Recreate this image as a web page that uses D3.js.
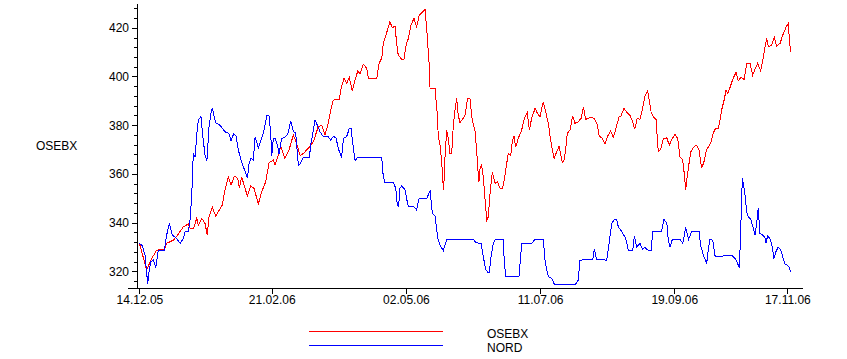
<!DOCTYPE html>
<html>
<head>
<meta charset="utf-8">
<script src="https://cdn.jsdelivr.net/npm/d3@7"></script>
<style>
    body { margin: 0; background: #fff; }
    svg text { font-family: "Liberation Sans", Arial, sans-serif; font-size: 12px; fill: #000; }
</style>
</head>
<body>
<svg id="chart" width="847" height="359"></svg>
<script>
// x values are days since 14.12.05
var osebxDays = [0, 3.8, 5.9, 9, 13, 14.2, 17.7, 20.3, 22.9, 25.5,
    26.4, 28.1, 29.9, 30.7, 32.5, 34.2, 35.4, 36.3, 38, 39.8,
    43.2, 44.6, 46.4, 47.8, 49.5, 51.3, 52.1, 53.3, 55.1, 56.3,
    58, 59.8, 62, 63.8, 65.9, 67.6, 69.8, 70.7, 72.1, 73.7,
    75.9, 78, 80.3, 82, 83.8, 85.5, 88.1, 90.7, 93.3, 95.1,
    96.8, 98.5, 99.8, 101.1, 104.3, 105, 106.7, 108.1, 109.5, 111,
    112.5, 113.9, 115.1, 116.8, 118.6, 119.4, 123.8, 125, 126.4, 127.2,
    128.6, 130.7, 131.9, 133.3, 134.2, 135, 136.8, 138, 139.1, 140.3,
    141.7, 143.2, 144.6, 146, 147.8, 149, 149.9, 151.1, 151.6, 154.2,
    155.4, 155.9, 156.8, 157.7, 158.2, 158.7, 159.4, 160.3, 161.1, 162,
    162.9, 163.7, 164.6, 165.5, 166.3, 167.2, 169.8, 171.2, 172.4, 173.6,
    175, 175.9, 176.5, 177.1, 177.7, 178.5, 179.4, 180.3, 181.2, 182,
    182.9, 184.1, 185.5, 186.7, 188.1, 189.5, 190.7, 191.6, 192.4, 193.7,
    194.5, 195.4, 196.3, 197.6, 199.4, 200.8, 202.3, 203.4, 204.6, 206.4,
    207.8, 209, 209.8, 210.7, 212.1, 213.3, 214.5, 215.4, 216.3, 217.7,
    218.9, 219.8, 220.6, 221.6, 222.5, 223.2, 224.6, 226, 227.2, 228.9,
    230.4, 231.6, 232.8, 235.1, 237.3, 238.9, 239.9, 241.2, 242.9, 244.1,
    245.8, 247.2, 248.6, 250.2, 251.2, 252.8, 254.2, 255.9, 257.3, 258.4,
    259.7, 261.1, 262.5, 263.7, 265.1, 265.8, 266.9, 268.1, 269.5, 270.2,
    270.7, 271.9, 273.3, 275.1, 276.4, 278, 279.4, 280.8, 282, 283.4,
    284.2, 285, 285.5, 286.7, 287.7, 289.5, 290.7, 291.9, 293.3, 294.5,
    295.9, 297.1, 298.2, 299.4, 300.6, 302, 302.9, 303.8, 305.1, 306,
    306.9, 308.1, 309.5, 311.2, 312.4, 313.8, 315.5, 316.8, 318.5, 319.9,
    321.1, 322.5, 324.1, 325.5, 326.3, 327.2, 328.1, 329.8, 331.2, 332.4,
    334.2, 335.6, 337.3, 338.5, 339, 339.7];
var osebxValues = [331.5, 320.5, 324.6, 328.7, 329, 331.5, 332.8, 335.3, 338.3, 339.4,
    337.6, 337.4, 341.8, 339, 341.8, 339.7, 334.9, 342.4, 346.3, 342.7,
    347.2, 353.4, 358.8, 355.4, 359.1, 358.2, 354.1, 358.8, 354.1, 350.9,
    355, 354.1, 347.6, 352.7, 356.8, 364.6, 365.7, 363.6, 367, 371.2,
    366.4, 369.8, 376, 372.5, 367.5, 368.4, 370.5, 373.2, 379.4, 380,
    376, 380.8, 386.2, 390.3, 390.6, 394.4, 399.2, 397.2, 399.6, 394.1,
    398.5, 402.3, 401, 405, 403.3, 399.2, 399.2, 405.4, 407.5, 413.6,
    417, 422.5, 420, 420.7, 413.6, 408.8, 407, 407, 412.9, 415.6,
    421.1, 423.9, 420.4, 425.2, 426.6, 427.6, 419, 405.4, 395.1, 395.1,
    384.2, 375.3, 371.8, 365, 357.5, 353.4, 367, 378, 374.6, 368.4,
    368.4, 379.4, 386.2, 391, 384.2, 381, 383.8, 391, 391, 382.1,
    378, 369.8, 362.3, 356.8, 362.3, 363.6, 358.8, 349.3, 341.1, 342.4,
    352, 360.9, 356.1, 356.8, 354.1, 354.1, 359.5, 364.3, 368.4, 367.7,
    373.2, 375.5, 370.9, 374.6, 378, 382.8, 385.1, 378, 382.8, 386.9,
    384.6, 383.5, 386.9, 389.6, 384.9, 380.8, 373.9, 369.8, 366.4, 369.1,
    371.4, 367.7, 364.6, 365.7, 371.2, 376.7, 378, 383.8, 380.8, 381.4,
    382.8, 387.6, 382.4, 383.2, 382.8, 380, 375.3, 375, 372.3, 375.3,
    377.7, 375, 378.7, 383.5, 383.8, 386.9, 385.3, 384, 381.4, 378.3,
    382.8, 382.4, 386.9, 392, 394, 391, 385.5, 383.5, 382.4, 373.9,
    369.1, 370.1, 374.6, 374.8, 371.8, 374.6, 376.2, 374.6, 367, 365.7,
    360.2, 353.4, 357.5, 364.3, 369.1, 371.4, 371.8, 369.8, 362.3, 365,
    370.1, 371.4, 373.2, 376.9, 378.7, 378.7, 382.1, 386.5, 390.6, 394.4,
    393.1, 395.5, 398.8, 401.7, 398.2, 399.6, 398.8, 405.4, 405.4, 400.6,
    402.9, 405.4, 402.2, 408.1, 412, 415.6, 412.2, 412.9, 416, 412.5,
    413.6, 417, 420.2, 421.8, 415.6, 410.1];

var nordDays = [0, 1.5, 2.9, 3.8, 4.3, 5, 5.9, 7.2, 8.5, 9.8,
    13, 14.2, 15.6, 17.1, 19.4, 21.2, 22.9, 23.8, 25.5, 26.4,
    27.3, 28.1, 29, 29.9, 30.7, 32.1, 33, 34.2, 35.2, 36.3,
    37.3, 38, 39.8, 42, 44.6, 46.7, 47.8, 49.2, 50.4, 51.6,
    53, 54.7, 56.3, 57.2, 58.2, 59.4, 60.3, 61.2, 62, 63.4,
    64.6, 66.4, 67.6, 68.5, 69, 69.8, 70.7, 72.1, 72.8, 74.2,
    75.9, 77.3, 78, 78.9, 80.3, 81.5, 82.9, 83.8, 85.5, 88.6,
    89.5, 90.7, 91.6, 92.8, 94.2, 95.9, 98.5, 99.8, 101.1, 102.5,
    103.7, 105, 105.5, 106.4, 108.1, 109.5, 110.4, 111.6, 112.5, 113.9,
    126.4, 127.2, 128.1, 132.4, 133.7, 134.5, 135.2, 135.9, 136.8, 138.5,
    139.7, 140.3, 142.9, 144.6, 145.8, 149.9, 151.6, 152.8, 154.2, 155.1,
    155.6, 156.8, 158.5, 160.3, 174.2, 175.6, 178.2, 179.4, 180.6, 181.7,
    182.5, 183.4, 184.6, 185.8, 189.8, 190.3, 191.1, 198, 198.7, 199.4,
    204.6, 206.4, 210.7, 211.6, 212.5, 213.3, 215.1, 216.4, 227.6, 228.9,
    229.8, 236.5, 237.3, 238.5, 243.8, 245, 246.4, 247.6, 249, 249.8,
    251.6, 253.7, 255, 257.3, 258.2, 259.4, 261.1, 262.5, 263.7, 265.5,
    266.9, 267.8, 272.4, 273.6, 275.1, 275.9, 276.8, 278, 282, 283.4,
    284.2, 284.9, 285.8, 286.5, 288.1, 291.9, 292.9, 294.5, 295.9, 296.8,
    297.6, 299.1, 300.3, 301.5, 304.3, 309, 310.7, 311.9, 312.9, 313.3,
    313.8, 314.5, 315, 315.9, 316.8, 317.6, 318.9, 320.3, 321.1, 322,
    322.8, 323.7, 325.1, 326.3, 326.8, 327.7, 328.9, 330.1, 331, 332,
    333.2, 334.5, 335.5, 336.7, 337.9, 339, 339.7];
var nordValues = [331.5, 330.5, 326.7, 319.2, 314.8, 319.8, 323.9, 324.6, 321.6, 328.5,
    328.5, 334.9, 339.7, 334.9, 333.5, 331.5, 333.5, 336.3, 336.3, 341,
    351.3, 368.4, 366.8, 376, 382.1, 383.5, 376, 367.7, 365.3, 379.4,
    384.9, 386.9, 381, 380, 377.3, 376.6, 373.5, 376.6, 375.5, 369.8,
    365.7, 361.9, 358.2, 364.3, 366.6, 365.7, 375, 373.2, 370.5, 373.9,
    376.6, 383.8, 383.8, 376.6, 367.3, 374.2, 374.8, 371.4, 368.2, 374.6,
    375, 376.4, 378.3, 381.8, 377.3, 376.9, 363.6, 364.1, 366.8, 366.8,
    372.5, 378, 382.1, 380, 377.3, 375.3, 375.3, 373.9, 375.3, 375,
    370.5, 367.7, 367, 374.6, 375.3, 378.7, 378.7, 370.5, 365.4, 366.8,
    366.8, 358.8, 356.5, 356.5, 354.1, 347.2, 346.5, 354.1, 355, 353.7,
    348.6, 346.8, 346.8, 345.2, 349.7, 350, 353.1, 343.8, 342.7, 337,
    333.5, 330.8, 328.5, 333.1, 333.1, 331.7, 331.5, 326, 320.8, 319.6,
    319.6, 326, 331.7, 333.1, 333.1, 324.6, 317.8, 317.8, 324.6, 331.5,
    331.5, 333.1, 333.1, 324.6, 320.5, 317.8, 317.1, 314.8, 314.8, 316.4,
    324.6, 324.9, 329, 324.9, 324.6, 331.5, 339.7, 341.1, 341.3, 338.3,
    336.3, 333.5, 328.7, 328.5, 334.5, 329.9, 331.5, 329, 329.9, 328.5,
    328.5, 336.3, 336.5, 341.3, 339.9, 332.8, 330.1, 333.1, 333.1, 331.5,
    334.5, 338.1, 335.3, 333.1, 336.5, 336.5, 330.1, 326, 323.3, 329,
    333.1, 332.8, 326.3, 326, 326.3, 326.6, 325.3, 323.5, 321.6, 328.7,
    340.4, 358.2, 356.1, 351.3, 344.5, 342.4, 341.3, 337.7, 334.9, 339.7,
    345.9, 335.6, 334.9, 334, 331.5, 334.5, 333.5, 330.1, 325.3, 328,
    329.9, 329, 326.3, 323, 322.6, 321.6, 319.8];

var tickDays = [0, 69, 139, 209, 279, 338];
var tickLabels = ["14.12.05", "21.02.06", "02.05.06", "11.07.06", "19.09.06", "17.11.06"];
var yLabelTicks = [320, 340, 360, 380, 400, 420];
var yMinorTicks = d3.range(316, 430, 4);
var seriesNames = ["OSEBX", "NORD"];
var seriesColors = ["#ff0000", "#0000ff"];

drawChart();

function drawChart() {
    var svg = d3.select("#chart");

    var x = d3.scaleLinear()
        .domain([-6, 346])
        .range([127.94, 802.69]);

    var y = d3.scaleLinear()
        .domain([313, 430])
        .range([288.4, 3.4]);

    // y axis: minor ticks every 4, labelled ticks every 20
    svg.append("g")
        .attr("transform", "translate(137,0)")
        .call(d3.axisLeft(y).tickValues(yMinorTicks).tickSize(3).tickSizeOuter(0).tickFormat(""));

    var yAxis = svg.append("g")
        .attr("transform", "translate(137,0)")
        .call(d3.axisLeft(y).tickValues(yLabelTicks).tickSize(5).tickSizeOuter(0).tickPadding(3));
    yAxis.select(".domain").remove();

    var xAxis = svg.append("g")
        .attr("transform", "translate(0,288)")
        .call(d3.axisBottom(x).tickValues(tickDays).tickSize(6).tickSizeOuter(0).tickPadding(1)
            .tickFormat(function (d, i) {
                return tickLabels[i];
            }));

    svg.selectAll(".tick text, g")
        .attr("font-family", null)
        .attr("font-size", null);
    svg.selectAll(".domain, .tick line")
        .attr("stroke", "#000")
        .attr("shape-rendering", "crispEdges");

    //Axis title
    svg.append("text")
        .attr("x", 36)
        .attr("y", 150)
        .text("OSEBX");

    var line = d3.line()
        .x(function (d) { return x(d[0]); })
        .y(function (d) { return y(d[1]); });

    var series = [d3.zip(osebxDays, osebxValues), d3.zip(nordDays, nordValues)];

    svg.selectAll(".series")
        .data(series)
        .enter().append("path")
        .attr("class", "series")
        .attr("fill", "none")
        .attr("stroke", function (d, i) { return seriesColors[i]; })
        .attr("stroke-width", 1)
        .attr("shape-rendering", "crispEdges")
        .attr("d", line);

    //Legend
    var legend = svg.selectAll(".legend")
        .data(seriesNames)
        .enter().append("g")
        .attr("class", "legend")
        .attr("transform", function (d, i) {
            return "translate(0," + (i * 14) + ")";
        });
    legend.append("line")
        .attr("x1", 309)
        .attr("x2", 443)
        .attr("y1", 331.5)
        .attr("y2", 331.5)
        .attr("stroke", function (d, i) { return seriesColors[i]; })
        .attr("shape-rendering", "crispEdges");
    legend.append("text")
        .attr("x", 487)
        .attr("y", 338)
        .text(function (d) { return d; });
}
</script>
</body>
</html>
